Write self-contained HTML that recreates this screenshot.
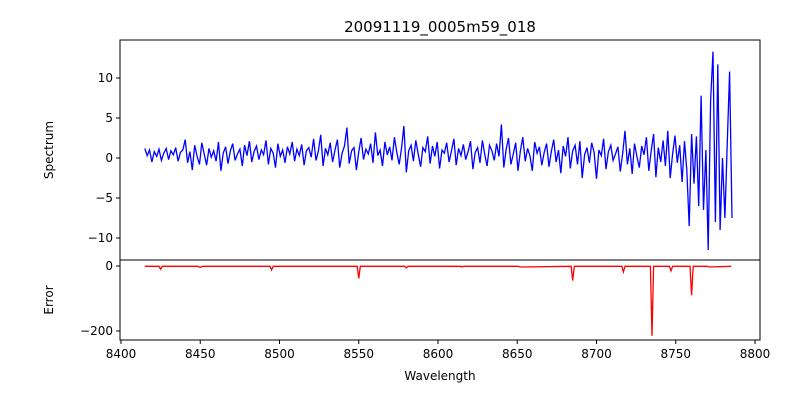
<!DOCTYPE html>
<html><head><meta charset="utf-8"><style>
body{margin:0;background:#fff;font-family:"Liberation Sans","DejaVu Sans",sans-serif}
svg text{font-family:"DejaVu Sans","Liberation Sans",sans-serif;font-size:12px;fill:#000}
</style></head><body>
<svg id="c" width="800" height="400"></svg>
<script>
const specStart=8415, specStep=1.5;
const specVals=[1.2,0.3,1.0,-0.5,0.8,0.2,1.1,-0.3,0.6,1.2,
-0.2,0.9,0.4,1.3,-0.4,0.7,1.0,2.3,-0.6,0.8,
-1.5,1.6,0.2,-0.8,1.9,0.5,-0.9,1.2,0.1,0.9,
-0.4,2.0,-1.6,0.6,1.4,-0.7,0.9,1.8,-0.3,0.5,
1.1,-1.0,1.6,0.3,2.1,-0.5,0.8,1.5,-0.2,1.0,
0.4,2.2,-0.8,1.2,0.6,-1.2,1.8,0.2,1.0,-0.6,
1.4,0.5,2.0,-0.4,1.1,0.3,1.7,-0.9,0.9,1.3,
0.1,2.4,-0.3,0.8,2.9,-1.0,1.2,0.4,1.9,-0.5,
1.0,2.3,-1.2,0.6,1.5,3.8,-0.7,0.9,1.3,-1.5,
0.8,2.5,-0.2,1.1,0.5,1.8,-0.6,3.2,0.3,1.0,
-1.0,2.0,0.4,1.4,-0.3,2.6,0.7,-0.8,1.2,4.0,
-1.8,0.9,1.6,-0.4,2.2,0.5,-1.1,1.3,0.8,2.7,
-0.7,1.5,0.2,2.0,-1.3,1.0,0.6,1.9,-0.5,0.9,
2.4,-0.9,1.2,0.3,1.7,-0.2,0.8,2.1,-1.4,0.7,
1.3,-0.6,2.2,0.4,-1.0,1.6,0.9,-0.3,1.8,0.2,
4.2,-1.2,1.1,2.5,-0.8,0.5,1.9,-1.6,0.9,2.6,
-0.4,1.2,0.3,-1.6,2.0,0.6,1.4,-0.9,0.7,1.8,
-1.1,0.8,2.3,-0.5,1.0,-1.9,1.5,0.2,2.6,-1.3,
0.9,1.6,-0.8,2.1,-2.5,0.4,1.3,-0.6,1.9,0.7,
-2.6,1.0,0.3,2.4,-1.4,0.8,1.6,-0.3,0.5,1.4,
-1.7,0.6,3.4,-0.8,1.2,-2.0,1.8,0.2,-1.2,1.5,
0.4,2.6,-1.6,0.9,3.0,-2.4,1.3,-0.5,2.2,-1.0,
3.4,-2.5,0.5,2.8,-0.6,1.6,-3.0,2.1,-1.5,-8.5,
3.0,-3.2,2.7,-6.0,7.8,-6.5,1.0,-11.5,7.2,13.3,
-8.0,11.7,-9.0,0.0,-7.5,2.0,10.8,-7.5];
const errWave=[8415,8424,8425,8426,8448,8450,8452,8494,8495,8496,8549,8550,8551,8579,8580,8581,8614,8615,8616,8650,8652,8684,8685,8686,8716,8717,8718,8734,8735,8736,8746,8747,8748,8759,8760,8761,8770,8771,8785];
const errVals=[-1,-1,-10,-1,-1,-4,-1,-1,-12,-1,-1,-38,-1,-1,-6,-1,-1,-3,-1,-1,-3,-1,-45,-1,-1,-18,-1,-1,-215,-1,-1,-15,-1,-1,-90,-1,-1,-3,-1];
const xTicks=[8400,8450,8500,8550,8600,8650,8700,8750,8800];
const yTopTicks=[10,5,0,-5,-10];
const yBotTicks=[0,-200];

const L=120,R=760,T=40,M=260,B=340;
const xs=v=>121+(v-8400)*(755-121)/400;
const ysT=v=>158-v*8;
const ysB=v=>266-v*0.325;
const svg=document.getElementById('c');
const NS='http://www.w3.org/2000/svg';
function mk(tag,a,txt){const e=document.createElementNS(NS,tag);for(const k in a)e.setAttribute(k,a[k]);if(txt!=null)e.textContent=txt;svg.appendChild(e);return e;}

let d='';specVals.forEach((v,i)=>{d+=(i?'L':'M')+xs(specStart+i*specStep).toFixed(1)+' '+ysT(v).toFixed(1);});
let p=mk('path',{d:d,fill:'none',stroke:'#0000ff','stroke-width':1.3});


d='';errVals.forEach((v,i)=>{d+=(i?'L':'M')+xs(errWave[i]).toFixed(1)+' '+ysB(v).toFixed(1);});
p=mk('path',{d:d,fill:'none',stroke:'#ff0000','stroke-width':1.3});



let r=mk('rect',{x:L,y:T,width:R-L,height:M-T,fill:'none',stroke:'#000','stroke-width':1});


r=mk('rect',{x:L,y:M,width:R-L,height:B-M,fill:'none',stroke:'#000','stroke-width':1});



xTicks.forEach(v=>{const x=xs(v);mk('line',{x1:x,x2:x,y1:B,y2:B+4,stroke:'#000'});
const t=mk('text',{x:x,y:B+18,'text-anchor':'middle'},String(v));

});
yTopTicks.forEach(v=>{const y=ysT(v);mk('line',{x1:L-4,x2:L,y1:y,y2:y,stroke:'#000'});
const t=mk('text',{x:L-7,y:y+4,'text-anchor':'end'},String(v).replace('-','\u2212'));

});
yBotTicks.forEach(v=>{const y=ysB(v);mk('line',{x1:L-4,x2:L,y1:y,y2:y,stroke:'#000'});
const t=mk('text',{x:L-7,y:y+4,'text-anchor':'end'},String(v).replace('-','\u2212'));

});

let t=mk('text',{x:440,y:32,'text-anchor':'middle','font-size':'15'},'20091119_0005m59_018');
t.style.fontSize='15px';


t=mk('text',{x:440,y:380,'text-anchor':'middle'},'Wavelength');


t=mk('text',{x:53,y:150,'text-anchor':'middle',transform:'rotate(-90 53 150)'},'Spectrum');


t=mk('text',{x:53,y:300,'text-anchor':'middle',transform:'rotate(-90 53 300)'},'Error');


</script>
</body></html>
